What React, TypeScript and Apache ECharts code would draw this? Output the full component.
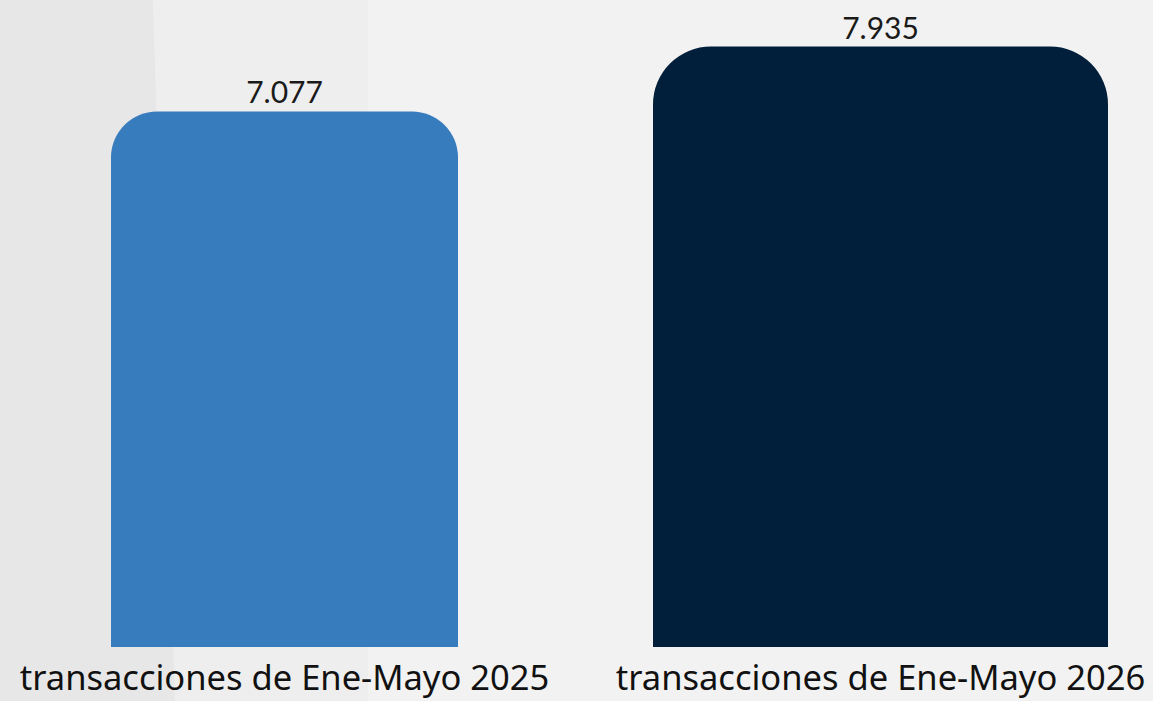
import React, { useEffect, useRef } from "react";
import * as echarts from "echarts";

const categories: string[] = [
  "transacciones de Ene-Mayo 2025",
  "transacciones de Ene-Mayo 2026",
];
const values: number[] = [7077, 7935];
const barColors: string[] = ["#377cbd", "#011f3a"];
const barWidths: number[] = [347, 455];
const barRadii: number[] = [46, 58];

function fmt(v: number): string {
  const s = String(Math.round(v));
  return s.replace(/\B(?=(\d{3})+(?!\d))/g, ".");
}

export default function App() {
  const ref = useRef<HTMLDivElement>(null);
  useEffect(() => {
    if (!ref.current) return;
    const chart = echarts.init(ref.current, undefined, { renderer: "svg" });
    const unit = 596;
    const xMin = -284.5 / unit;
    const xMax = xMin + 1153 / unit;
    chart.setOption({
      animation: false,
      backgroundColor: "#f2f2f2",
      graphic: [
        {
          type: "polygon",
          z: -10,
          silent: true,
          shape: { points: [[153, 0], [368, 0], [368, 701], [175, 701]] },
          style: { fill: "#eeeeee" },
        },
        {
          type: "polygon",
          z: -10,
          silent: true,
          shape: { points: [[0, 0], [153, 0], [175, 701], [0, 701]] },
          style: { fill: "#e7e7e7" },
        },
      ],
      grid: { left: 0, right: 0, top: 0, bottom: 54, containLabel: false },
      xAxis: {
        type: "value",
        min: xMin,
        max: xMax,
        splitLine: { show: false },
        axisLine: { show: false },
        axisTick: { show: false },
        axisLabel: {
          customValues: [0, 1],
          formatter: (v: number) => categories[Math.round(v)] ?? "",
          margin: 12,
          fontSize: 34.5,
          lineHeight: 35,
          color: "#111111",
          fontFamily: "Noto Sans",
        },
      },
      yAxis: {
        type: "value",
        min: 0,
        max: 8550,
        show: false,
        splitLine: { show: false },
      },
      series: [
        {
          type: "custom",
          data: values.map((v, i) => [i, v]),
          renderItem: (params: any, api: any) => {
            const idx = api.value(0);
            const val = api.value(1);
            const top = api.coord([idx, val]);
            const base = api.coord([idx, 0]);
            const w = barWidths[idx];
            const r = barRadii[idx];
            return {
              type: "group",
              children: [
                {
                  type: "rect",
                  shape: {
                    x: top[0] - w / 2,
                    y: top[1],
                    width: w,
                    height: base[1] - top[1],
                    r: [r, r, 0, 0],
                  },
                  style: { fill: barColors[idx] },
                },
                {
                  type: "text",
                  style: {
                    text: fmt(val),
                    x: top[0],
                    y: top[1] - 5,
                    align: "center",
                    verticalAlign: "bottom",
                    fontSize: 30,
                    fontFamily: "Lato",
                    fill: "#1a1a1a",
                  },
                },
              ],
            };
          },
        },
      ],
    });
    return () => chart.dispose();
  }, []);
  return (
    <div
      ref={ref}
      style={{ position: "absolute", left: 0, top: 0, width: 1153, height: 701 }}
    />
  );
}
